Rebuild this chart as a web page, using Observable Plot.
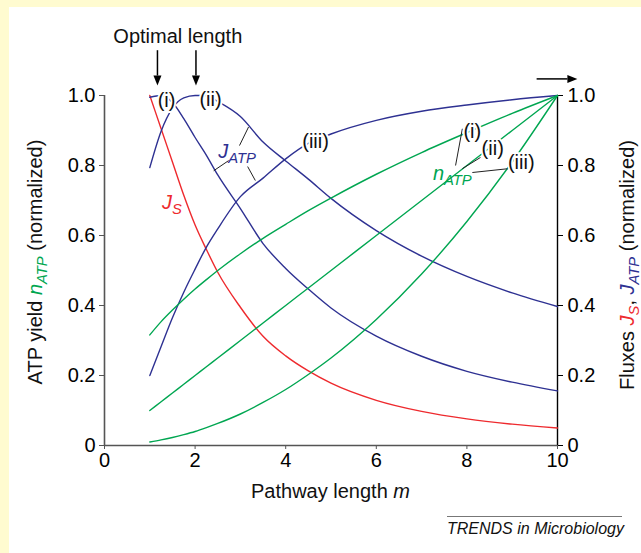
<!DOCTYPE html>
<html><head><meta charset="utf-8">
<script src="https://cdn.jsdelivr.net/npm/d3@7"></script>
<script src="https://cdn.jsdelivr.net/npm/@observablehq/plot@0.6"></script>
<style>
html,body{margin:0;padding:0;background:#fffbd0;width:641px;height:553px;overflow:hidden;}
#panel{position:absolute;left:9px;top:7px;width:632px;height:546px;background:#fff;}
#cap{position:absolute;left:438px;top:509px;width:175px;border-top:1px solid #777;font:italic 16px 'Liberation Sans',Arial,sans-serif;text-align:right;padding-top:3px;color:#111;white-space:nowrap;}
svg{font-family:'Liberation Sans',Arial,sans-serif;}
</style></head><body><div id="panel"><div id="cap">TRENDS in Microbiology</div></div>
<script>
// ---- data ----
const mSteps   = [1, 1.25, 1.5, 1.75, 2, 2.25, 2.5, 3, 3.5, 4, 4.5, 5, 6, 7, 8, 9, 10];
const jS       = [1.0, 0.905, 0.81, 0.715, 0.63, 0.56, 0.495, 0.395, 0.312, 0.256, 0.213, 0.178, 0.129, 0.0974, 0.076, 0.061, 0.05];
const jATP_i   = [0.995, 1.0, 0.98, 0.934, 0.88, 0.829, 0.773, 0.677, 0.577, 0.506, 0.447, 0.393, 0.3125, 0.255, 0.212, 0.181, 0.156];
const jATP_ii  = [0.794, 0.898, 0.964, 0.993, 1.0, 1.0, 0.983, 0.94, 0.867, 0.813, 0.761, 0.706, 0.614, 0.541, 0.483, 0.436, 0.397];
const jATP_iii = [0.2, 0.283, 0.365, 0.438, 0.504, 0.567, 0.619, 0.711, 0.764, 0.819, 0.863, 0.89, 0.929, 0.955, 0.973, 0.988, 1.0];
const nATP_i   = [0.316, 0.354, 0.387, 0.418, 0.447, 0.474, 0.5, 0.548, 0.592, 0.632, 0.671, 0.707, 0.775, 0.837, 0.894, 0.949, 1.0];
const nATP_ii  = [0.1, 0.125, 0.15, 0.175, 0.2, 0.225, 0.25, 0.3, 0.35, 0.4, 0.45, 0.5, 0.6, 0.7, 0.8, 0.9, 1.0];
const nATP_iii = [0.01, 0.016, 0.023, 0.031, 0.04, 0.051, 0.063, 0.09, 0.123, 0.16, 0.203, 0.25, 0.36, 0.49, 0.64, 0.81, 1.0];
const xTicks = [0, 2, 4, 6, 8, 10];
const yTicks = [0, 0.2, 0.4, 0.6, 0.8, 1.0];

const RED = "#ee2a2e", BLUE = "#2e3192", GREEN = "#00a651";

const series = [
  {key: "JS", vals: jS, color: RED},
  {key: "Ji", vals: jATP_i, color: BLUE},
  {key: "Jii", vals: jATP_ii, color: BLUE},
  {key: "Jiii", vals: jATP_iii, color: BLUE},
  {key: "ni", vals: nATP_i, color: GREEN},
  {key: "nii", vals: nATP_ii, color: GREEN},
  {key: "niii", vals: nATP_iii, color: GREEN}
];
const rows = series.flatMap(s => mSteps.map((m, i) => ({m, v: s.vals[i], key: s.key})));

// annotations in data coordinates
const curveLabels = [
  {text: "(i)", m: 1.37, v: 0.986},
  {text: "(ii)", m: 2.34, v: 0.989},
  {text: "(iii)", m: 4.66, v: 0.869},
  {text: "(i)", m: 8.12, v: 0.897},
  {text: "(ii)", m: 8.57, v: 0.849},
  {text: "(iii)", m: 9.2, v: 0.809}
];
const leaders = [
  {m1: 3.18, v1: 0.91, m2: 2.98, v2: 0.857},
  {m1: 2.74, v1: 0.814, m2: 2.41, v2: 0.785},
  {m1: 3.16, v1: 0.797, m2: 3.33, v2: 0.757},
  {m1: 7.9, v1: 0.905, m2: 7.75, v2: 0.80},
  {m1: 8.3, v1: 0.823, m2: 7.9, v2: 0.791},
  {m1: 8.12, v1: 0.78, m2: 8.92, v2: 0.791}
];

const fmt = d => d === 0 ? "0" : d3.format(".1f")(d);
const FS = 20;

const chart = Plot.plot({
  width: 632, height: 500,
  marginLeft: 95, marginRight: 84, marginTop: 88, marginBottom: 62,
  style: {fontFamily: "'Liberation Sans', Arial, sans-serif", fontSize: FS + "px", background: "transparent", overflow: "visible", color: "#000"},
  x: {domain: [0, 10]},
  y: {domain: [0, 1]},
  marks: [
    Plot.axisX({ticks: xTicks, tickSize: 4, tickPadding: 3, tickFormat: d => String(d), label: null, stroke: "#555", fontSize: FS}),
    Plot.axisY({anchor: "left", ticks: yTicks, tickSize: 5, tickPadding: 4, tickFormat: fmt, label: null, stroke: "#555", fontSize: FS}),
    Plot.axisY({anchor: "right", ticks: yTicks, tickSize: 5, tickPadding: 5, tickFormat: fmt, label: null, stroke: "#000", fontSize: FS}),
    Plot.ruleX([0], {y1: 0, y2: 1, stroke: "#555", strokeWidth: 1.6}),
    Plot.ruleX([10], {y1: 0, y2: 1, stroke: "#000", strokeWidth: 1.4}),
    Plot.ruleY([0], {x1: 0, x2: 10, stroke: "#555", strokeWidth: 1.6}),
    ...series.map(s => Plot.line(rows.filter(r => r.key === s.key), {x: "m", y: "v", stroke: s.color, strokeWidth: 1.4, curve: "monotone-x"})),
    Plot.link(leaders, {x1: "m1", y1: "v1", x2: "m2", y2: "v2", stroke: "#222", strokeWidth: 1}),
    Plot.text(curveLabels, {x: "m", y: "v", text: "text", fill: "#111", stroke: "white", strokeWidth: 4, fontSize: FS, textAnchor: "middle"})
  ]
});
document.getElementById("panel").prepend(chart);

const X = v => chart.scale("x").apply(v), Y = v => chart.scale("y").apply(v);
const g = d3.select(chart).append("g");

function arrow(x1, y1, x2, y2) {
  const a = Math.atan2(y2 - y1, x2 - x1), L = 10, w = 4;
  const bx = x2 - L * Math.cos(a), by = y2 - L * Math.sin(a);
  g.append("line").attr("x1", x1).attr("y1", y1).attr("x2", bx).attr("y2", by).attr("stroke", "#000").attr("stroke-width", 1.5);
  g.append("path").attr("d", `M${x2},${y2}L${bx - w * Math.sin(a)},${by + w * Math.cos(a)}L${bx + w * Math.sin(a)},${by - w * Math.cos(a)}Z`).attr("fill", "#000");
}
function rich(x, y, parts, {anchor = "start", rotate = 0, size = FS} = {}) {
  const t = g.append("text").attr("x", x).attr("y", y).attr("font-size", size).attr("text-anchor", anchor).attr("fill", "#111");
  if (rotate) t.attr("transform", `rotate(${rotate},${x},${y})`);
  let shifted = 0;
  for (const p of parts) {
    const s = t.append("tspan").text(p.t);
    if (p.color) s.attr("fill", p.color);
    if (p.italic) s.attr("font-style", "italic");
    const want = p.sub ? size * 0.27 : 0;
    if (want !== shifted) { s.attr("dy", want - shifted); shifted = want; }
    if (p.sub) s.attr("font-size", size * 0.74);
  }
}

// "Optimal length" and arrows
rich(X(1.63), Y(1.15), [{t: "Optimal length"}], {anchor: "middle"});
arrow(X(1.18), Y(1.128), X(1.18), Y(1.027));
arrow(X(2.03), Y(1.128), X(2.03), Y(1.027));
arrow(X(9.55), Y(1.046), X(10.45), Y(1.046));

// curve name labels
rich(X(2.52), Y(0.82), [{t: "J", italic: true, color: BLUE}, {t: "ATP", italic: true, sub: true, color: BLUE}]);
rich(X(1.28), Y(0.675), [{t: "J", italic: true, color: RED}, {t: "S", italic: true, sub: true, color: RED}]);
rich(X(7.26), Y(0.757), [{t: "n", italic: true, color: GREEN}, {t: "ATP", italic: true, sub: true, color: GREEN}]);

// axis titles
rich(33, 255, [{t: "ATP yield "}, {t: "n", italic: true, color: GREEN}, {t: "ATP", italic: true, sub: true, color: GREEN}, {t: " (normalized)"}], {anchor: "middle", rotate: -90});
rich(625, 258, [{t: "Fluxes "}, {t: "J", italic: true, color: RED}, {t: "S", italic: true, sub: true, color: RED}, {t: ", "}, {t: "J", italic: true, color: BLUE}, {t: "ATP", italic: true, sub: true, color: BLUE}, {t: " (normalized)"}], {anchor: "middle", rotate: -90});
rich(X(5), 491, [{t: "Pathway length "}, {t: "m", italic: true}], {anchor: "middle"});
</script></body></html>
